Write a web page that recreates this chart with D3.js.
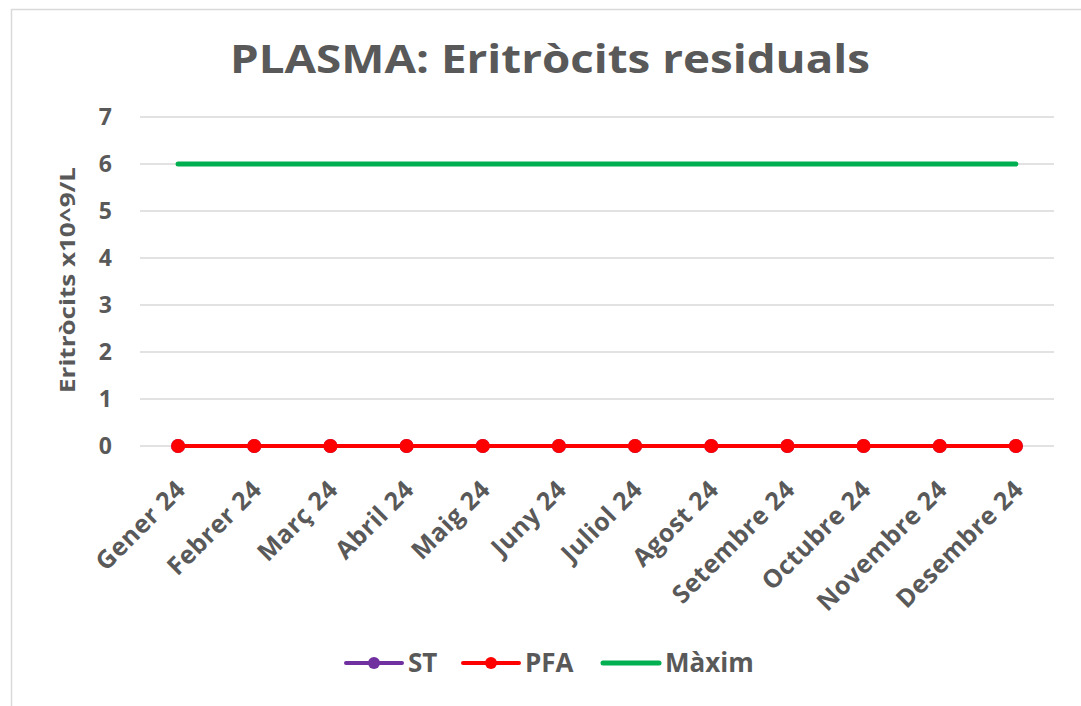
<!DOCTYPE html>
<html>
<head>
<meta charset="utf-8">
<script src="https://cdn.jsdelivr.net/npm/d3@7"></script>
<style>
  html, body { margin: 0; padding: 0; background: #fff; }
  svg { display: block; }
</style>
</head>
<body>
<svg id="chart" width="1081" height="706"></svg>
<script>
const title = "PLASMA: Eritròcits residuals";
const yTitle = "Eritròcits x10^9/L";
const categories = ["Gener 24","Febrer 24","Març 24","Abril 24","Maig 24","Juny 24","Juliol 24","Agost 24","Setembre 24","Octubre 24","Novembre 24","Desembre 24"];
const stValues    = [0,0,0,0,0,0,0,0,0,0,0,0];
const pfaValues   = [0,0,0,0,0,0,0,0,0,0,0,0];
const maximValues = [6,6,6,6,6,6,6,6,6,6,6,6];
const yTicks = [0,1,2,3,4,5,6,7];
const seriesNames = ["ST","PFA","Màxim"];

const series = [
  { name: seriesNames[0], values: stValues,    color: "#7030a0", width: 4, marker: true },
  { name: seriesNames[1], values: pfaValues,   color: "#ff0000", width: 4, marker: true },
  { name: seriesNames[2], values: maximValues, color: "#00b050", width: 5, marker: false }
];

const svg = d3.select("#chart");
const font = "'Open Sans', sans-serif";
const textColor = "#595959";

// chart border
svg.append("rect").attr("x", 11.5).attr("y", 9.5).attr("width", 1100).attr("height", 800)
  .attr("fill", "#fff").attr("stroke", "#d9d9d9").attr("stroke-width", 1.5);

const plotLeft = 140, plotRight = 1054, plotTop = 117, plotBottom = 446;

const x = d3.scaleBand().domain(categories).range([plotLeft, plotRight]);
const y = d3.scaleLinear().domain([0, 7]).range([plotBottom, plotTop]);

// title
svg.append("text").attr("x", 550).attr("y", 73).attr("text-anchor", "middle")
  .attr("font-family", font).attr("font-weight", "bold").attr("font-size", 39)
  .attr("fill", textColor).attr("textLength", 640).attr("lengthAdjust", "spacingAndGlyphs")
  .text(title);

// gridlines
svg.append("g").selectAll("line").data(yTicks).join("line")
  .attr("x1", plotLeft).attr("x2", plotRight)
  .attr("y1", d => y(d)).attr("y2", d => y(d))
  .attr("stroke", "#d9d9d9").attr("stroke-width", 1.3);

// y axis (labels only)
const yAxis = svg.append("g").attr("transform", `translate(${plotLeft},0)`)
  .call(d3.axisLeft(y).tickValues(yTicks).tickSize(0).tickPadding(28).tickFormat(d3.format("d")));
yAxis.select(".domain").remove();
yAxis.selectAll("text").attr("font-family", font).attr("font-weight", "bold")
  .attr("font-size", 23).attr("fill", textColor);

// x axis labels
const xAxis = svg.append("g").attr("transform", `translate(0,${plotBottom})`)
  .call(d3.axisBottom(x).tickSize(0).tickPadding(0));
xAxis.select(".domain").remove();
xAxis.selectAll("text")
  .attr("font-family", font).attr("font-weight", "bold").attr("font-size", 25).attr("fill", textColor)
  .attr("letter-spacing", 0.5)
  .attr("text-anchor", "end").attr("dy", null).attr("y", 0)
  .attr("transform", "translate(9,45) rotate(-45)");

// y title
svg.append("text").attr("transform", "translate(75,280) rotate(-90)")
  .attr("text-anchor", "middle").attr("font-family", font).attr("font-weight", "bold")
  .attr("font-size", 22).attr("fill", textColor)
  .attr("textLength", 226).attr("lengthAdjust", "spacingAndGlyphs").text(yTitle);

// lines
const line = d3.line().x((d, i) => x(categories[i]) + x.bandwidth() / 2).y(d => y(d));
series.forEach(s => {
  svg.append("path").datum(s.values).attr("d", line).attr("fill", "none")
    .attr("stroke", s.color).attr("stroke-width", s.width).attr("stroke-linecap", "round");
  if (s.marker) {
    svg.append("g").selectAll("circle").data(s.values).join("circle")
      .attr("cx", (d, i) => x(categories[i]) + x.bandwidth() / 2).attr("cy", d => y(d))
      .attr("r", 7).attr("fill", s.color);
  }
});

// legend
const legendItems = [
  { s: series[0], x0: 346 },
  { s: series[1], x0: 463 },
  { s: series[2], x0: 603 }
];
const ly = 663;
const lg = svg.append("g");
legendItems.forEach(it => {
  const g = lg.append("g");
  g.append("line").attr("x1", it.x0).attr("x2", it.x0 + 56).attr("y1", ly).attr("y2", ly)
    .attr("stroke", it.s.color).attr("stroke-width", it.s.width).attr("stroke-linecap", "round");
  if (it.s.marker) {
    g.append("circle").attr("cx", it.x0 + 28).attr("cy", ly).attr("r", 6).attr("fill", it.s.color);
  }
  g.append("text").attr("x", it.x0 + 62).attr("y", ly + 9).attr("font-family", font)
    .attr("font-weight", "bold").attr("font-size", 26).attr("fill", textColor).text(it.s.name);
});
</script>
</body>
</html>
